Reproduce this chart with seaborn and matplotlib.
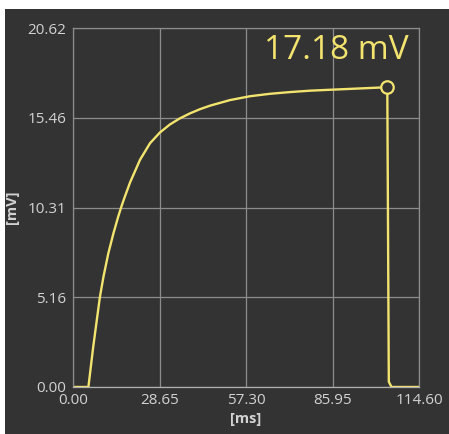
import matplotlib
matplotlib.use("Agg")
import matplotlib.pyplot as plt
import seaborn as sns
import pandas as pd
from matplotlib.patches import Rectangle

# values
time_ms = [0.0, 5.1, 6.7, 8.9, 10.1, 11.7, 13.4, 15.0, 16.1, 17.0, 18.9, 22.2,
           25.5, 28.8, 32.1, 35.4, 38.8, 42.1, 45.4, 52.0, 58.6, 65.2, 71.9, 78.5,
           86.1, 94.0, 101.7, 104.1, 104.6, 105.5, 114.6]
voltage_mv = [0.0, 0.0, 2.31, 5.16, 6.34, 7.68, 8.83, 9.8, 10.4, 10.85, 11.75, 13.05,
              14.0, 14.62, 15.08, 15.43, 15.72, 15.96, 16.16, 16.48, 16.7, 16.84, 16.94, 17.02,
              17.08, 17.14, 17.2, 17.22, 0.3, 0.0, 0.0]
x_ticks = [0.00, 28.65, 57.30, 85.95, 114.60]
y_ticks = [0.00, 5.16, 10.31, 15.46, 20.62]
peak_time = 104.1
peak_value = 17.18
peak_label = "17.18 mV"

df = pd.DataFrame({"t": time_ms, "v": voltage_mv})

bg = "#333333"
grid_c = "#8c8c8c"
text_c = "#d2d2d2"
yellow = "#f3e46f"

sns.set_style("dark")
plt.rcParams["font.family"] = ["Open Sans", "DejaVu Sans"]

fig = plt.figure(figsize=(4.49, 4.34), dpi=100)
fig.patch.set_facecolor("white")
fig.patches.append(Rectangle((5 / 449, 0), 444 / 449, 425 / 434, transform=fig.transFigure,
                             facecolor=bg, edgecolor="none", zorder=-1))
ax = fig.add_axes([73 / 449, 47 / 434, 346 / 449, 359 / 434])
ax.set_zorder(2)
ax.set_facecolor(bg)

sns.lineplot(data=df, x="t", y="v", ax=ax, color=yellow, linewidth=1.7, sort=False)
ax.plot([peak_time], [peak_value + 0.04], marker="o", markersize=9, markerfacecolor=bg,
        markeredgecolor=yellow, markeredgewidth=1.6, zorder=5)
ax.text(111, 19.35, peak_label, color=yellow, fontsize=24, ha="right", va="center")

ax.set_xlim(x_ticks[0], x_ticks[-1])
ax.set_ylim(y_ticks[0], y_ticks[-1])
ax.set_xticks(x_ticks)
ax.set_yticks(y_ticks)
ax.set_xticklabels([f"{v:.2f}" for v in x_ticks])
ax.set_yticklabels([f"{v:.2f}" for v in y_ticks])
ax.grid(True, color=grid_c, linewidth=0.9)
ax.tick_params(axis="x", length=0, pad=4, labelcolor=text_c, labelsize=11)
ax.tick_params(axis="y", length=3, width=0.9, color=grid_c, pad=2, labelcolor=text_c, labelsize=11)
for s in ax.spines.values():
    s.set_color(grid_c)
    s.set_linewidth(0.9)
ax.spines["bottom"].set_color("#b0b0b0")

ax.set_xlabel("[ms]", color=text_c, fontsize=10.5, fontweight="bold", labelpad=3)
ax.set_ylabel("[mV]", color=text_c, fontsize=10.5, fontweight="bold", labelpad=6)

fig.savefig("out.png", dpi=100)
